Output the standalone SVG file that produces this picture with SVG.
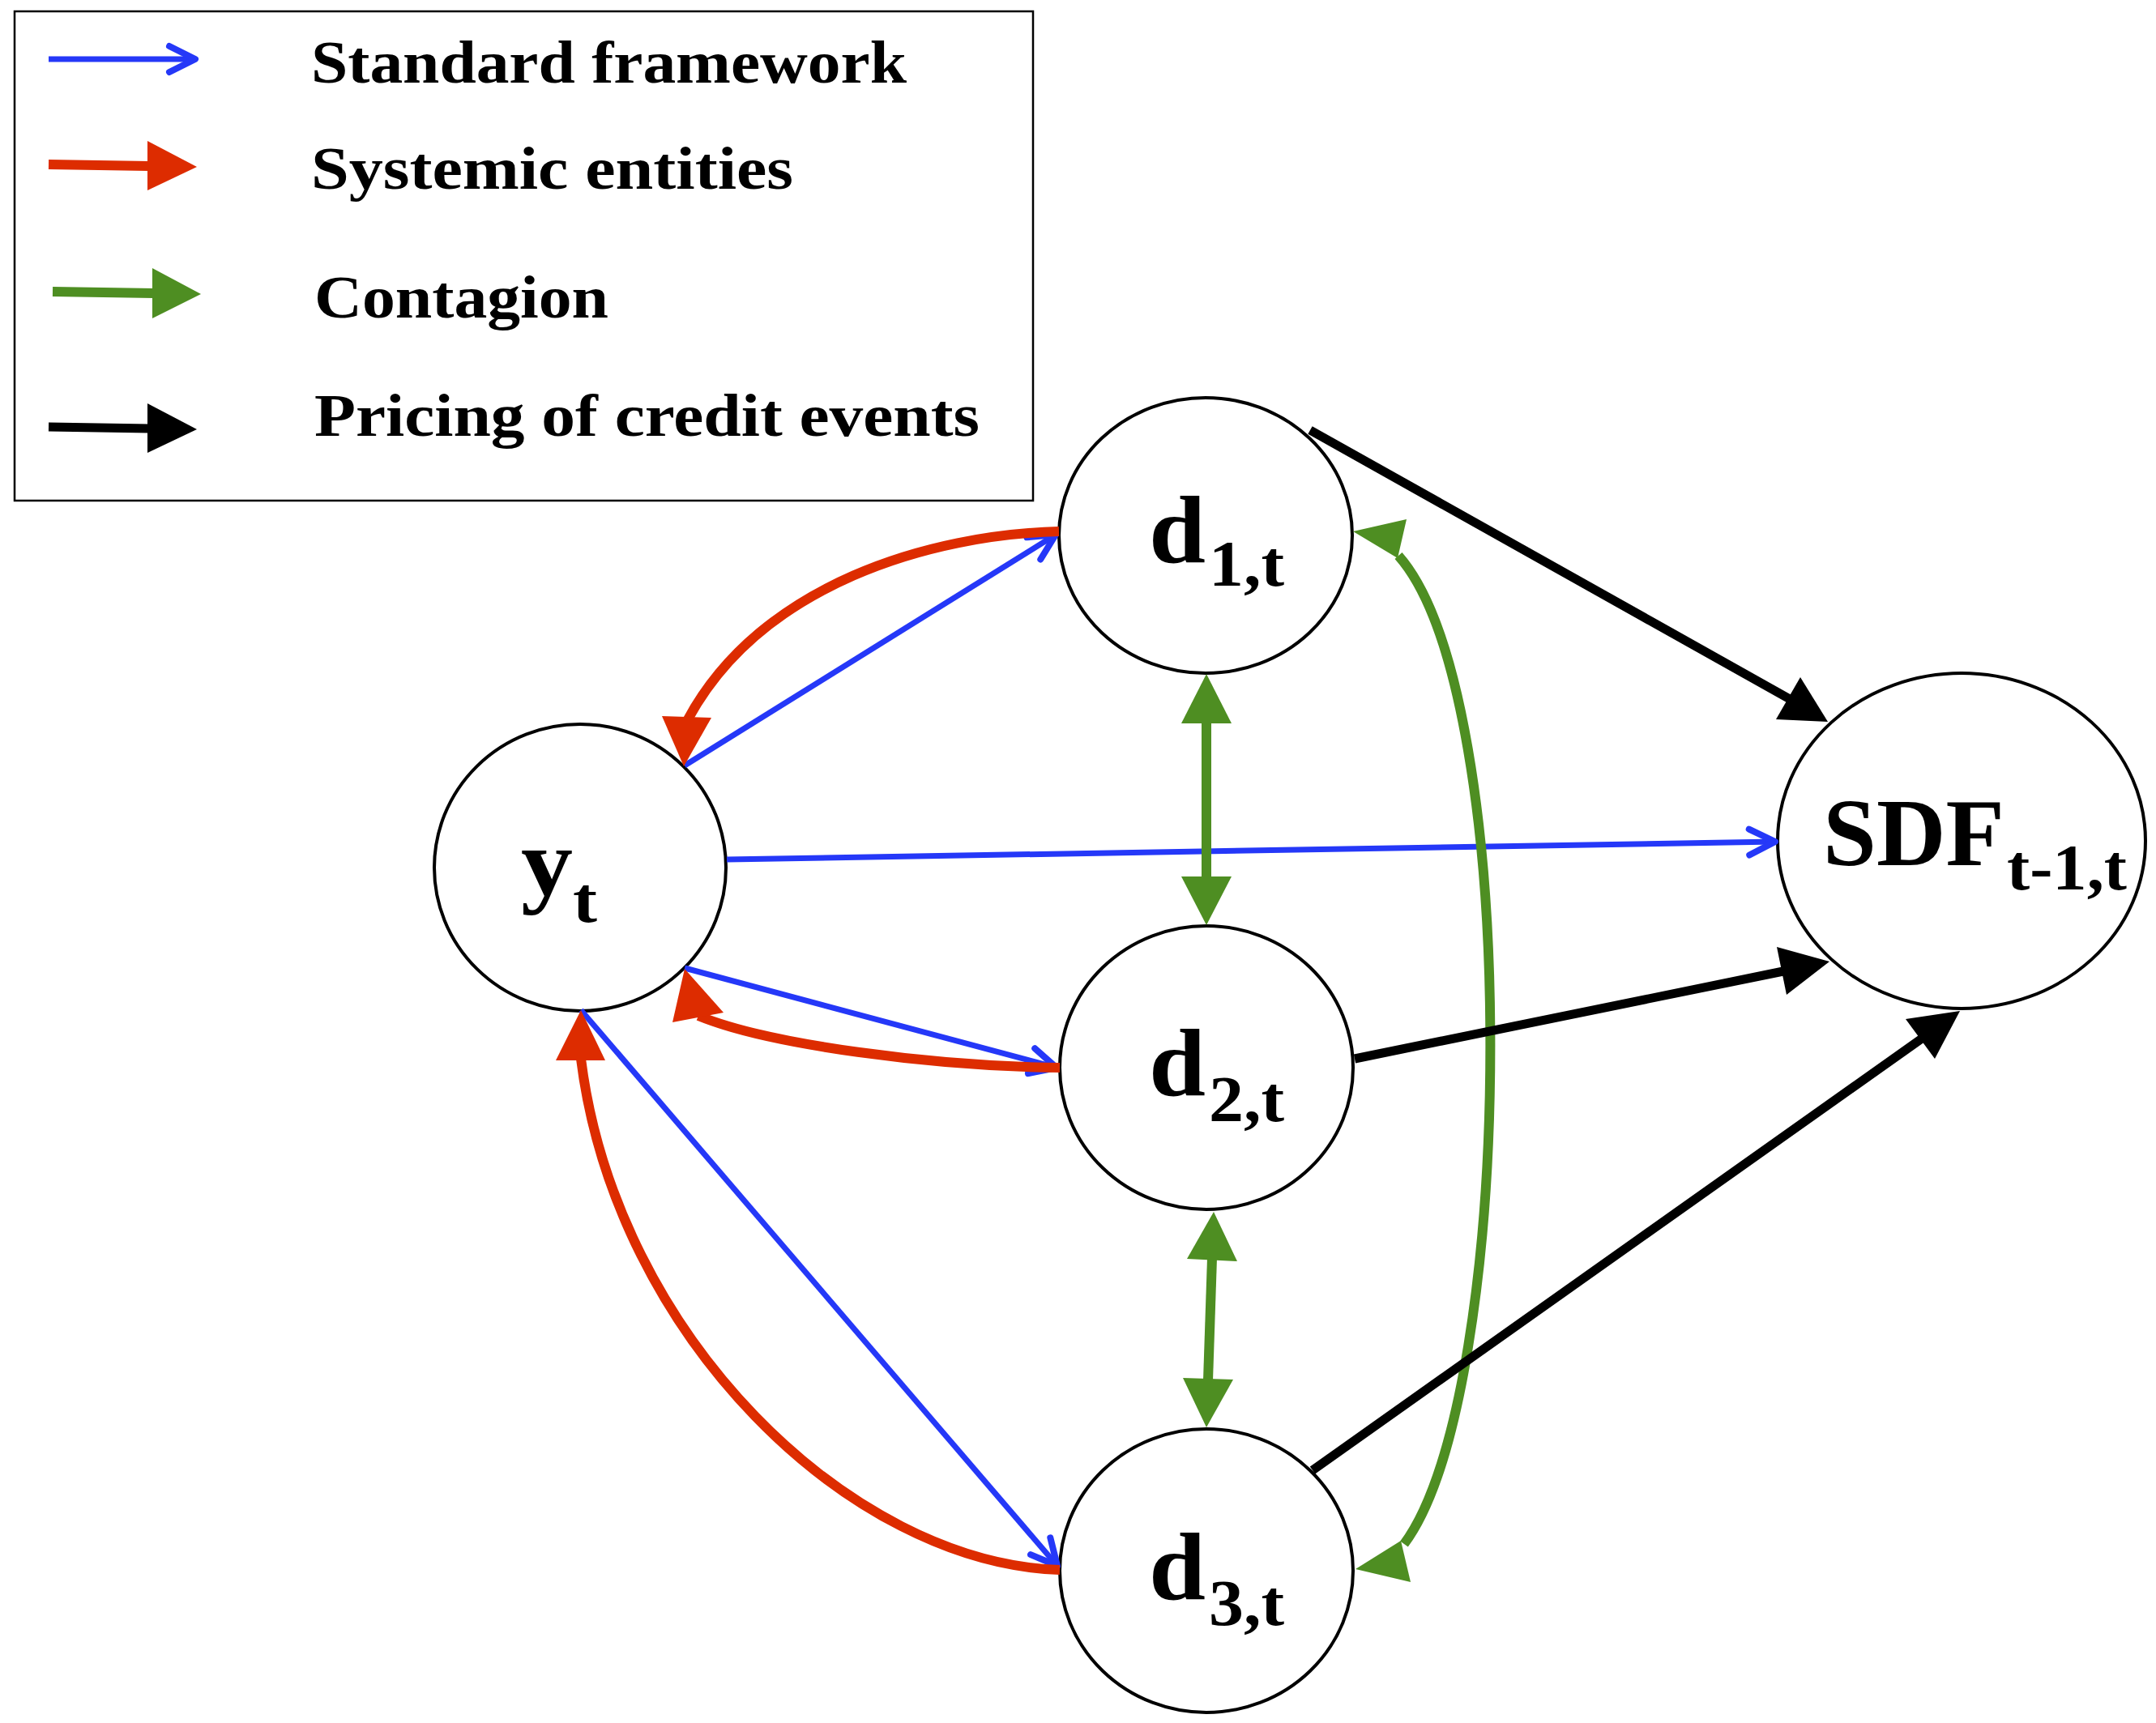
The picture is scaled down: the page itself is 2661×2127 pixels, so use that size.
<svg xmlns="http://www.w3.org/2000/svg" width="2661" height="2127" viewBox="0 0 2661 2127">
<style>
.bg{fill:#ffffff}
.node{fill:#ffffff;stroke:#000000;stroke-width:4}
.lbl{font-family:"Liberation Serif","Times New Roman",serif;font-weight:bold;fill:#000000}
.main{font-size:118px}
.sub{font-size:80px}
.leg{font-family:"Liberation Serif","Times New Roman",serif;font-weight:bold;font-size:74px;fill:#000000}
.box{fill:#ffffff;stroke:#000000;stroke-width:2.5}
.blue{fill:none;stroke:#2538f8;stroke-width:7}
.red{fill:none;stroke:#dd2c00;stroke-width:12}
.green{fill:none;stroke:#4e8e22;stroke-width:12}
.black{fill:none;stroke:#000000;stroke-width:11}
.hred{fill:#dd2c00}
.hgreen{fill:#4e8e22}
.hblack{fill:#000000}
</style>
<defs>
<marker id="chev" markerUnits="userSpaceOnUse" markerWidth="80" markerHeight="80" viewBox="-40 -40 80 80" refX="0" refY="0" orient="auto" overflow="visible">
<path d="M-32,-16 L0,0 L-32,16" fill="none" stroke="#2538f8" stroke-width="8" stroke-linecap="round" stroke-linejoin="round"/>
</marker>
</defs>
<rect class="bg" x="0" y="0" width="2661" height="2127"/>

<g id="legend">
<rect class="box" x="18" y="14" width="1257" height="604"/>
<line class="blue" x1="60" y1="73" x2="241" y2="73" marker-end="url(#chev)"/>
<line class="red" x1="60" y1="203" x2="184" y2="205"/>
<polygon class="hred" points="182,174 243,206 182,235"/>
<line class="green" x1="65" y1="360" x2="190" y2="362"/>
<polygon class="hgreen" points="188,331 248,363 188,393"/>
<line class="black" x1="60" y1="527" x2="184" y2="529"/>
<polygon class="hblack" points="182,498 243,530 182,559"/>
<text class="leg" x="384" y="102" textLength="735" lengthAdjust="spacingAndGlyphs">Standard framework</text>
<text class="leg" x="384" y="233" textLength="595" lengthAdjust="spacingAndGlyphs">Systemic entities</text>
<text class="leg" x="388" y="392" textLength="363" lengthAdjust="spacingAndGlyphs">Contagion</text>
<text class="leg" x="388" y="538" textLength="821" lengthAdjust="spacingAndGlyphs">Pricing of credit events</text>
</g>

<g id="node-yt">
<ellipse class="node" cx="716" cy="1071" rx="180" ry="177"/>
<text class="lbl main" x="643" y="1105" textLength="64" lengthAdjust="spacingAndGlyphs">y</text>
<text class="lbl sub" x="707" y="1138" textLength="30" lengthAdjust="spacingAndGlyphs">t</text>
</g>
<g id="node-d1">
<ellipse class="node" cx="1488" cy="661" rx="181" ry="170"/>
<text class="lbl main" x="1418" y="694" textLength="70" lengthAdjust="spacingAndGlyphs">d</text>
<text class="lbl sub" x="1492" y="723" textLength="93" lengthAdjust="spacingAndGlyphs">1,t</text>
</g>
<g id="node-d2">
<ellipse class="node" cx="1489" cy="1318" rx="181" ry="175"/>
<text class="lbl main" x="1418" y="1352" textLength="70" lengthAdjust="spacingAndGlyphs">d</text>
<text class="lbl sub" x="1492" y="1384" textLength="93" lengthAdjust="spacingAndGlyphs">2,t</text>
</g>
<g id="node-d3">
<ellipse class="node" cx="1489" cy="1939" rx="181" ry="175"/>
<text class="lbl main" x="1418" y="1974" textLength="70" lengthAdjust="spacingAndGlyphs">d</text>
<text class="lbl sub" x="1492" y="2006" textLength="93" lengthAdjust="spacingAndGlyphs">3,t</text>
</g>
<g id="node-sdf">
<ellipse class="node" cx="2421" cy="1038" rx="227" ry="207"/>
<text class="lbl main" x="2250" y="1068" textLength="224" lengthAdjust="spacingAndGlyphs">SDF</text>
<text class="lbl sub" x="2477" y="1098" textLength="148" lengthAdjust="spacingAndGlyphs">t-1,t</text>
</g>

<g id="connectors">
<line class="blue" x1="845" y1="945" x2="1303" y2="660" marker-end="url(#chev)"/>
<line class="blue" x1="897" y1="1061" x2="2191" y2="1039" marker-end="url(#chev)"/>
<line class="blue" x1="845" y1="1195" x2="1304" y2="1318" marker-end="url(#chev)"/>
<line class="blue" x1="717" y1="1247" x2="1305" y2="1933" marker-end="url(#chev)"/>

<line class="green" x1="1489" y1="891" x2="1489" y2="1084"/>
<polygon class="hgreen" points="1489,832 1458,893 1520,893"/>
<polygon class="hgreen" points="1489,1142 1458,1082 1520,1082"/>
<line class="green" x1="1496" y1="1553" x2="1491" y2="1704"/>
<polygon class="hgreen" points="1498,1496 1465,1554 1527,1557"/>
<polygon class="hgreen" points="1489,1762 1460,1701 1522,1703"/>
<path class="green" d="M1726,686 C1880,860 1872,1720 1733,1906"/>
<polygon class="hgreen" points="1670,656 1736,641 1725,689"/>
<polygon class="hgreen" points="1673,1937 1729,1902 1741,1953"/>

<path class="red" d="M1307,656 C1150,660 940,720 849,888"/>
<polygon class="hred" points="844,946 817,884 878,886"/>
<path class="red" d="M1308,1318 C1150,1316 950,1290 862,1254"/>
<polygon class="hred" points="845,1196 830,1262 893,1250"/>
<path class="red" d="M1308,1938 C1050,1930 760,1650 717,1307"/>
<polygon class="hred" points="717,1247 686,1309 747,1309"/>

<line class="black" x1="1617" y1="531" x2="2209" y2="863"/>
<polygon class="hblack" points="2256,891 2192,888 2222,836"/>
<line class="black" x1="1672" y1="1307" x2="2201" y2="1199"/>
<polygon class="hblack" points="2258,1187 2193,1169 2205,1228"/>
<line class="black" x1="1620" y1="1815" x2="2372" y2="1282"/>
<polygon class="hblack" points="2419,1248 2352,1258 2388,1307"/>
</g>
</svg>
